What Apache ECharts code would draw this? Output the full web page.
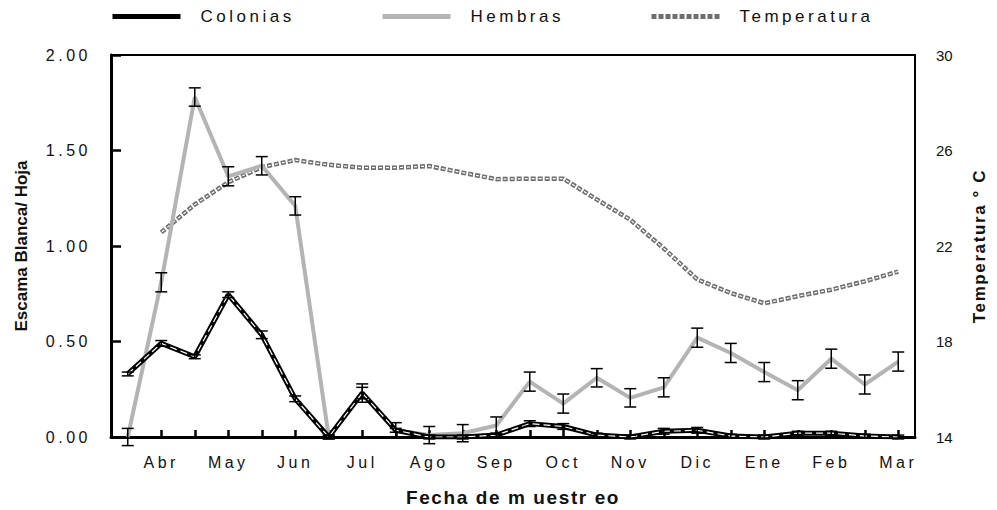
<!DOCTYPE html>
<html><head><meta charset="utf-8">
<script src="https://cdn.jsdelivr.net/npm/echarts@6/dist/echarts.min.js"></script>
<style>
html,body{margin:0;padding:0;background:#fff}
#c{width:997px;height:510px}
#c text[style*="Arial"]{letter-spacing:3.5px}
#c text[style*="Helvetica"]{letter-spacing:1.6px}
</style>
</head><body><div id="c"></div>
<script>
var categories = ['', 'Abr', '', 'May', '', 'Jun', '', 'Jul', '', 'Ago', '', 'Sep', '', 'Oct', '', 'Nov', '', 'Dic', '', 'Ene', '', 'Feb', '', 'Mar'];
var colonias = [0.33, 0.49, 0.42, 0.745, 0.535, 0.20, 0.0, 0.23, 0.035, 0.0, 0.0, 0.01, 0.07, 0.055, 0.01, 0.0, 0.03, 0.035, 0.005, 0.0, 0.02, 0.02, 0.005, 0.0];
var coloniasErr = [0.01, 0.015, 0.01, 0.015, 0.02, 0.015, 0.01, 0.03, 0.01, 0.01, 0.01, 0.01, 0.015, 0.015, 0.01, 0.01, 0.015, 0.015, 0.01, 0.01, 0.01, 0.01, 0.01, 0.01];
var hembras = [0.0, 0.81, 1.78, 1.365, 1.42, 1.21, 0.0, 0.23, 0.035, 0.01, 0.02, 0.06, 0.29, 0.175, 0.31, 0.205, 0.26, 0.52, 0.44, 0.34, 0.245, 0.41, 0.275, 0.395];
var hembrasErr = [0.045, 0.05, 0.048, 0.05, 0.048, 0.048, 0.01, 0.048, 0.04, 0.045, 0.045, 0.045, 0.05, 0.05, 0.048, 0.048, 0.05, 0.05, 0.05, 0.05, 0.05, 0.05, 0.05, 0.05];
var temperatura = [null, 22.57, 23.74, 24.67, 25.3, 25.6, 25.4, 25.28, 25.28, 25.35, 25.07, 24.8, 24.82, 24.82, 23.95, 23.1, 21.9, 20.6, 20.03, 19.6, 19.9, 20.17, 20.52, 20.93];
var leftTicks = [0, 0.5, 1.0, 1.5, 2.0];
var rightTicks = [14, 18, 22, 26, 30];

function errData(vals, errs) {
  return vals.map(function (v, i) { return [i, v, errs[i]]; });
}
function errRender(params, api) {
  var x = api.value(0), v = api.value(1), e = api.value(2);
  var top = api.coord([x, v + e]);
  var bot = api.coord([x, v - e]);
  var w = 6;
  var st = { stroke: '#000', lineWidth: 1.5 };
  return { type: 'group', children: [
    { type: 'line', shape: { x1: top[0], y1: top[1], x2: bot[0], y2: bot[1] }, style: st },
    { type: 'line', shape: { x1: top[0] - w, y1: top[1], x2: top[0] + w, y2: top[1] }, style: st },
    { type: 'line', shape: { x1: bot[0] - w, y1: bot[1], x2: bot[0] + w, y2: bot[1] }, style: st }
  ]};
}
var font = 'Liberation Sans, sans-serif';
var spacedFont = 'Arial, Liberation Sans, sans-serif';
var lightSpacedFont = 'Helvetica, Liberation Sans, sans-serif';
var chart = echarts.init(document.getElementById('c'), null, { renderer: 'svg' });
function legendOf(name, left) {
  return { data: [name], left: left, top: 3, itemWidth: 68, itemHeight: 10, itemGap: 0,
    textStyle: { fontFamily: spacedFont, fontSize: 17, color: '#111', padding: [0, 0, 0, 15] },
    itemStyle: { opacity: 0 }, lineStyle: { width: 5 } };
}
chart.setOption({
  animation: false,
  backgroundColor: '#fff',
  legend: [
    legendOf('Colonias', 105),
    legendOf('Hembras', 375),
    legendOf('Temperatura', 644)
  ],
  grid: { left: 111, right: 82, top: 55, bottom: 73, containLabel: false, outerBoundsMode: 'none',
    show: true, borderColor: '#000', borderWidth: 2, backgroundColor: 'transparent' },
  xAxis: {
    type: 'category', data: categories, boundaryGap: true,
    name: 'Fecha de m uestr eo', nameLocation: 'middle', nameGap: 51, nameMoveOverlap: false,
    nameTextStyle: { fontFamily: lightSpacedFont, fontSize: 19, fontWeight: 'bold', color: '#111' },
    axisLine: { lineStyle: { color: '#000', width: 3 } },
    axisTick: { show: true, inside: true, alignWithLabel: true, interval: 0, length: 7, lineStyle: { color: '#000', width: 2.5 } },
    axisLabel: { interval: 0, margin: 17, fontFamily: spacedFont, fontSize: 16, color: '#111' },
    splitLine: { show: false }
  },
  yAxis: [
    { type: 'value', min: 0, max: 2, interval: 0.5, position: 'left',
      name: 'Escama Blanca/ Hoja', nameLocation: 'middle', nameGap: 81, nameRotate: 90, nameMoveOverlap: false,
      nameTextStyle: { fontFamily: font, fontSize: 17, fontWeight: 'bold', color: '#111' },
      axisLine: { show: true, lineStyle: { color: '#000', width: 3 } },
      axisTick: { show: true, inside: true, length: 10, lineStyle: { color: '#000', width: 2.5 } },
      axisLabel: { margin: 20, fontFamily: spacedFont, fontSize: 16, color: '#111', formatter: function (v) { return v.toFixed(2); } },
      splitLine: { show: false } },
    { type: 'value', min: 14, max: 30, interval: 4, position: 'right',
      name: 'Temperatura ° C', nameLocation: 'middle', nameGap: 56, nameRotate: 90, nameMoveOverlap: false,
      nameTextStyle: { fontFamily: lightSpacedFont, fontSize: 17, fontWeight: 'bold', color: '#111' },
      axisLine: { show: true, lineStyle: { color: '#000', width: 2 } },
      axisTick: { show: false },
      axisLabel: { margin: 21, fontFamily: font, fontSize: 15, color: '#111' },
      splitLine: { show: false } }
  ],
  series: [
    { name: 'Temperatura', type: 'line', yAxisIndex: 1, data: temperatura, symbol: 'none', z: 2,
      lineStyle: { color: '#6e6e6e', width: 4.5, type: [5, 2] }, itemStyle: { color: '#6e6e6e' } },
    { name: 'tempOverlay', type: 'line', yAxisIndex: 1, data: temperatura, symbol: 'none', z: 3, silent: true,
      lineStyle: { color: '#fff', width: 1.2, type: [3, 4], dashOffset: -1 } },
    { name: 'Hembras', type: 'line', data: hembras, symbol: 'none', z: 4,
      lineStyle: { color: '#b4b4b4', width: 4 }, itemStyle: { color: '#b4b4b4' } },
    { name: 'Colonias', type: 'line', data: colonias, symbol: 'none', z: 5,
      lineStyle: { color: '#000', width: 5 }, itemStyle: { color: '#000' } },
    { name: 'colOverlay', type: 'line', data: colonias, symbol: 'none', z: 6, silent: true,
      lineStyle: { color: '#fff', width: 1.2, type: [7, 4] } },
    { name: 'hembrasErr', type: 'custom', data: errData(hembras, hembrasErr), renderItem: errRender, z: 7, silent: true },
    { name: 'coloniasErr', type: 'custom', data: errData(colonias, coloniasErr), renderItem: errRender, z: 7, silent: true }
  ]
});
</script></body></html>
